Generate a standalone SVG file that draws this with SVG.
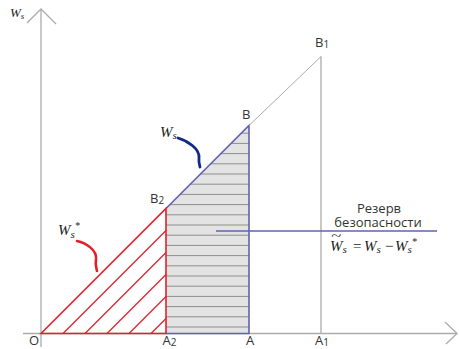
<svg xmlns="http://www.w3.org/2000/svg" width="459" height="349" viewBox="0 0 459 349">
<style>
.ax{stroke:#ababab;stroke-width:1.3;fill:none}
.red{stroke:#e41e2b;stroke-width:1.6;fill:none}
.redh{stroke:#e41e2b;stroke-width:1.3}
.blue{stroke:#6262b2;stroke-width:1.6;fill:none}
.hl{stroke:#8e8e8e;stroke-width:1}
.lbl{font-family:"Open Sans","DejaVu Sans",sans-serif;font-size:13px;fill:#333}
.sub{font-size:10px}
.math{font-family:"Liberation Serif","DejaVu Serif",serif;font-style:italic;fill:#222}
</style>
<rect width="459" height="349" fill="#fff"/>
<g id="axes">
<line class="ax" x1="41" y1="9" x2="41" y2="347"/>
<polyline class="ax" points="27,23 41,9 56,24"/>
<line class="ax" x1="23" y1="333.5" x2="457" y2="333.5"/>
<polyline class="ax" points="445,322 457,333.5 446,344"/>
</g>
<g id="reserve-area">
<polygon points="166,333.5 166,208.5 249,125.5 249,333.5" fill="#e3e3e3"/>
<g class="hl">
<line x1="166" y1="327" x2="249" y2="327"/>
<line x1="166" y1="316.8" x2="249" y2="316.8"/>
<line x1="166" y1="306.6" x2="249" y2="306.6"/>
<line x1="166" y1="296.4" x2="249" y2="296.4"/>
<line x1="166" y1="286.2" x2="249" y2="286.2"/>
<line x1="166" y1="276" x2="249" y2="276"/>
<line x1="166" y1="265.8" x2="249" y2="265.8"/>
<line x1="166" y1="255.6" x2="249" y2="255.6"/>
<line x1="166" y1="245.4" x2="249" y2="245.4"/>
<line x1="166" y1="235.2" x2="249" y2="235.2"/>
<line x1="166" y1="225" x2="249" y2="225"/>
<line x1="166" y1="214.8" x2="249" y2="214.8"/>
<line x1="169.9" y1="204.6" x2="249" y2="204.6"/>
<line x1="180.1" y1="194.4" x2="249" y2="194.4"/>
<line x1="190.3" y1="184.2" x2="249" y2="184.2"/>
<line x1="200.5" y1="174" x2="249" y2="174"/>
<line x1="210.7" y1="163.8" x2="249" y2="163.8"/>
<line x1="220.9" y1="153.6" x2="249" y2="153.6"/>
<line x1="231.1" y1="143.4" x2="249" y2="143.4"/>
<line x1="241.3" y1="133.2" x2="249" y2="133.2"/>
</g>
<polyline class="blue" points="166,208.5 249,125.5 249,333.5 166,333.5"/>
</g>
<g id="upper-line">
<line class="ax" x1="249" y1="125.5" x2="321" y2="56.5" style="stroke-width:1"/>
<line class="ax" x1="321" y1="56.5" x2="321" y2="333.5"/>
</g>
<g id="min-area">
<polygon class="red" points="41,333.5 166,208.5 166,333.5"/>
<g class="redh">
<line x1="63" y1="333.5" x2="166" y2="230.5"/>
<line x1="85" y1="333.5" x2="166" y2="252.5"/>
<line x1="107" y1="333.5" x2="166" y2="274.5"/>
<line x1="129" y1="333.5" x2="166" y2="296.5"/>
<line x1="151" y1="333.5" x2="166" y2="318.5"/>
</g>
</g>
<g id="connectors">
<line class="blue" x1="216" y1="231" x2="437" y2="231"/>
<path d="M77,241 C86,243 97,250 96,259 C95,264 96,267 97,271" fill="none" stroke="#e41e2b" stroke-width="2.6" stroke-linecap="round"/>
<path d="M178,138 C188,141 200,149 199,158 C198.5,162 199,164 200,167" fill="none" stroke="#0f2a86" stroke-width="2.8" stroke-linecap="round"/>
</g>
<g id="labels">
<text class="lbl" x="29" y="344.5">O</text>
<text class="lbl" x="162.5" y="344.5">A<tspan class="sub" dy="1">2</tspan></text>
<text class="lbl" x="246" y="344.5">A</text>
<text class="lbl" x="315" y="344.5">A<tspan class="sub" dy="1">1</tspan></text>
<text class="lbl" x="242" y="119">B</text>
<text class="lbl" x="315" y="47">B<tspan class="sub" dy="1">1</tspan></text>
<text class="lbl" x="150" y="203">B<tspan class="sub" dy="1">2</tspan></text>
<text class="lbl" x="379" y="212.5" text-anchor="middle">Резерв</text>
<text class="lbl" x="378" y="226.5" text-anchor="middle">безопасности</text>
</g>
<g id="math-labels">
<text class="math" x="10" y="17" font-size="13">W<tspan font-size="9" dy="2">s</tspan></text>
<text class="math" x="160" y="136.5" font-size="15">W<tspan font-size="11" dy="2">s</tspan></text>
<text class="math" x="58" y="235" font-size="15">W<tspan font-size="11" dy="3">s</tspan><tspan font-size="10" dy="-9">*</tspan></text>
<text class="math" x="330" y="250.5" font-size="15">W<tspan font-size="11" dy="2">s</tspan></text>
<text class="math" x="331" y="240" font-size="12" transform="translate(331 0) scale(1.55 1) translate(-331 0)" font-style="normal">~</text>
<text class="math" x="352" y="250.5" font-size="15" font-style="normal">=</text>
<text class="math" x="364" y="250.5" font-size="15">W<tspan font-size="11" dy="2">s</tspan></text>
<text class="math" x="384" y="250.5" font-size="15" font-style="normal">−</text>
<text class="math" x="395" y="250.5" font-size="15">W<tspan font-size="11" dy="2">s</tspan><tspan font-size="10" dy="-8">*</tspan></text>
</g>
</svg>
